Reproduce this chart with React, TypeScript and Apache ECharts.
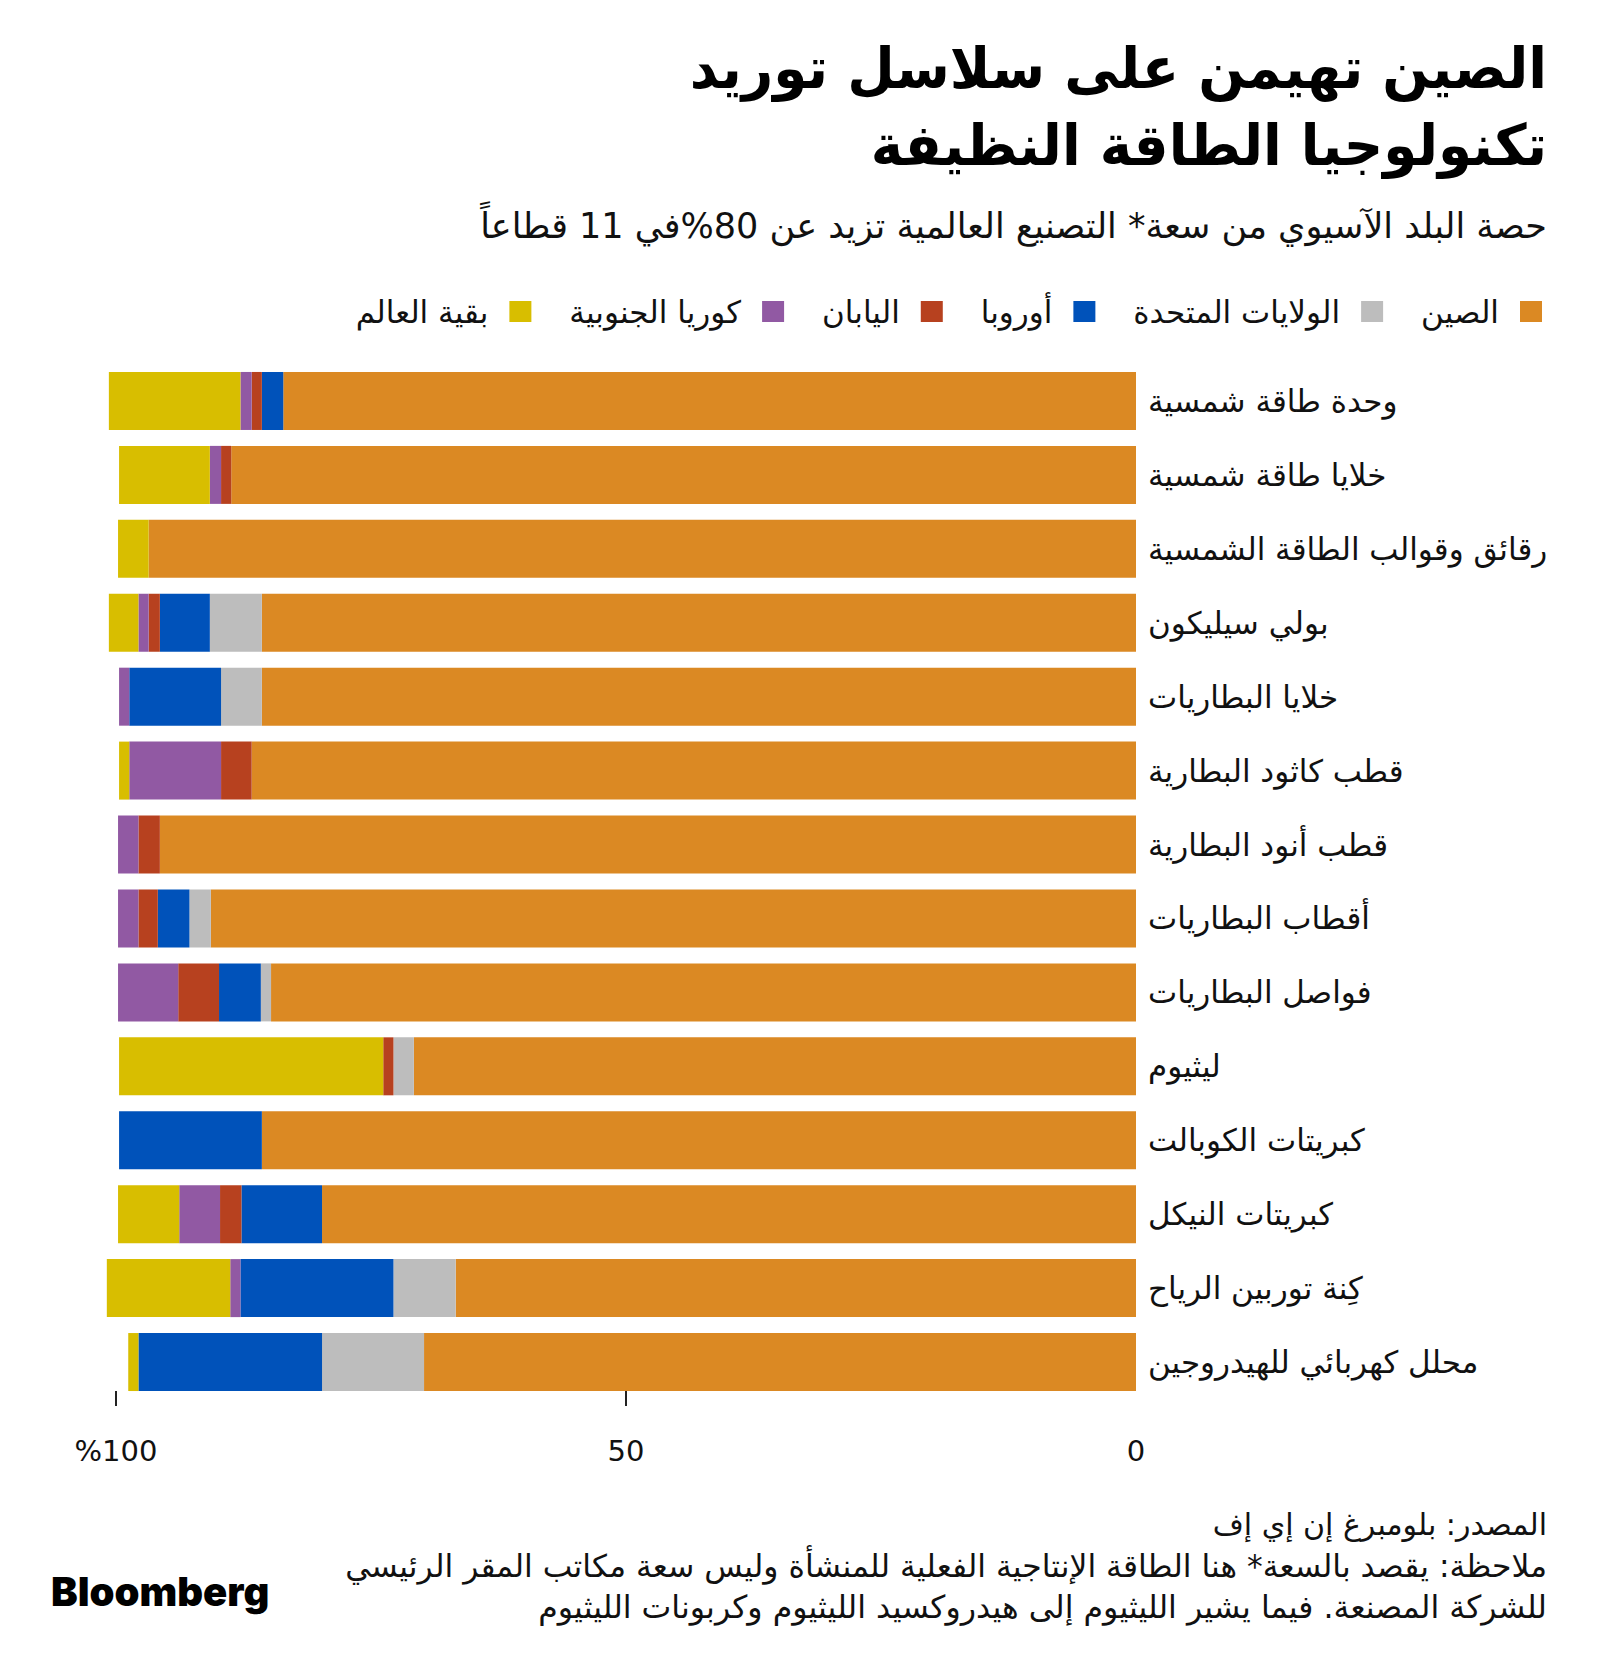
import React, { useEffect, useRef } from "react";
import * as echarts from "echarts";

const categories = [
  "وحدة طاقة شمسية",
  "خلايا طاقة شمسية",
  "رقائق وقوالب الطاقة الشمسية",
  "بولي سيليكون",
  "خلايا البطاريات",
  "قطب كاثود البطارية",
  "قطب أنود البطارية",
  "أقطاب البطاريات",
  "فواصل البطاريات",
  "ليثيوم",
  "كبريتات الكوبالت",
  "كبريتات النيكل",
  "كِنة توربين الرياح",
  "محلل كهربائي للهيدروجين",
];

const seriesNames = ["الصين", "الولايات المتحدة", "أوروبا", "اليابان", "كوريا الجنوبية", "بقية العالم"];
const seriesColors = ["#DB8923", "#BDBDBD", "#0052BA", "#B7411F", "#9159A3", "#D8BE00"];

const china = [83.6, 88.7, 96.8, 85.7, 85.7, 86.7, 95.7, 90.7, 84.8, 70.8, 85.7, 79.8, 66.7, 69.8];
const usa = [0, 0, 0, 5.1, 4.0, 0, 0, 2.1, 1.0, 2.0, 0, 0, 6.1, 10.0];
const europe = [2.1, 0, 0, 4.9, 9.0, 0, 0, 3.1, 4.1, 0, 14.0, 7.9, 15.0, 18.0];
const japan = [1.0, 1.0, 0, 1.1, 0, 3.0, 2.1, 1.9, 4.0, 1.0, 0, 2.1, 0, 0];
const korea = [1.1, 1.1, 0, 1.0, 1.0, 9.0, 2.0, 2.0, 5.9, 0, 0, 4.0, 1.0, 0];
const restOfWorld = [12.9, 8.9, 3.0, 2.9, 0, 1.0, 0, 0, 0, 25.9, 0, 6.0, 12.1, 1.0];

const seriesValues = [china, usa, europe, japan, korea, restOfWorld];

const xTickLabels: Record<number, string> = { 0: "0", 50: "50", 100: "%100" };

const titleLine1 = "الصين تهيمن على سلاسل توريد";
const titleLine2 = "تكنولوجيا الطاقة النظيفة";
const subtitle = "حصة البلد الآسيوي من سعة* التصنيع العالمية تزيد عن 80%في 11 قطاعاً";
const sourceText = "المصدر: بلومبرغ إن إي إف";
const note1 = "ملاحظة: يقصد بالسعة* هنا الطاقة الإنتاجية الفعلية للمنشأة وليس سعة مكاتب المقر الرئيسي";
const note2 = "للشركة المصنعة. فيما يشير الليثيوم إلى هيدروكسيد الليثيوم وكربونات الليثيوم";

const AR = '"DejaVu Sans", sans-serif';
const RLE = "\u202B";
const PDF = "\u202C";

export default function App() {
  const ref = useRef<HTMLDivElement>(null);
  useEffect(() => {
    if (!ref.current) return;
    const chart = echarts.init(ref.current, undefined, { renderer: "svg" });
    const series = seriesNames.map((name, i) => ({
      name,
      type: "bar",
      stack: "total",
      clip: false,
      barWidth: 58,
      itemStyle: { color: seriesColors[i] },
      emphasis: { disabled: true },
      data: seriesValues[i],
    }));
    chart.setOption({
      animation: false,
      backgroundColor: "#ffffff",
      textStyle: { fontFamily: AR },
      grid: { left: 116, right: 464, top: 364, bottom: 273, containLabel: false },
      legend: {
        data: seriesNames.slice().reverse(),
        right: 53,
        top: 291,
        align: "right",
        icon: "rect",
        itemWidth: 22,
        itemHeight: 21,
        itemGap: 38,
        selectedMode: false,
        textStyle: { fontSize: 31, color: "#111", fontFamily: AR, padding: [0, 16, 0, 0] },
      },
      xAxis: {
        type: "value",
        min: 0,
        max: 100,
        interval: 50,
        inverse: true,
        position: "bottom",
        offset: -8,
        axisLine: { show: false },
        splitLine: { show: false },
        axisTick: { show: true, length: 15, lineStyle: { color: "#222", width: 2 }, customValues: [50, 100] },
        axisLabel: {
          margin: 45,
          fontSize: 29,
          color: "#111",
          fontFamily: AR,
          customValues: [0, 50, 100],
          formatter: (v: number) => xTickLabels[v] ?? String(v),
        },
      },
      yAxis: {
        type: "category",
        data: categories,
        inverse: true,
        position: "right",
        axisLine: { show: false },
        axisTick: { show: false },
        axisLabel: { margin: 12, fontSize: 31, color: "#111", fontFamily: AR },
      },
      graphic: [
        { type: "text", x: 1547, y: 68, scaleX: 0.96, style: { text: titleLine1, font: 'bold 57px "DejaVu Sans"', fill: "#000", textAlign: "right", textVerticalAlign: "middle" } },
        { type: "text", x: 1547, y: 145, scaleX: 0.96, style: { text: titleLine2, font: 'bold 57px "DejaVu Sans"', fill: "#000", textAlign: "right", textVerticalAlign: "middle" } },
        { type: "text", x: 1547, y: 226, style: { text: RLE + subtitle + PDF, font: '35px "DejaVu Sans"', fill: "#111", textAlign: "right", textVerticalAlign: "middle" } },
        { type: "text", x: 1547, y: 1524, style: { text: sourceText, font: '30px "DejaVu Sans"', fill: "#111", textAlign: "right", textVerticalAlign: "middle" } },
        { type: "text", x: 1547, y: 1566, style: { text: note1, font: '31.4px "DejaVu Sans"', fill: "#111", textAlign: "right", textVerticalAlign: "middle" } },
        { type: "text", x: 1547, y: 1607, style: { text: note2, font: '31.6px "DejaVu Sans"', fill: "#111", textAlign: "right", textVerticalAlign: "middle" } },
        { type: "text", x: 51, y: 1591, style: { text: "Bloomberg", font: '900 40px Inter', fill: "#000", textAlign: "left", textVerticalAlign: "middle" } },
      ],
      series,
    });
    return () => chart.dispose();
  }, []);
  return <div ref={ref} style={{ position: "absolute", left: 0, top: 0, width: 1600, height: 1672 }} />;
}
